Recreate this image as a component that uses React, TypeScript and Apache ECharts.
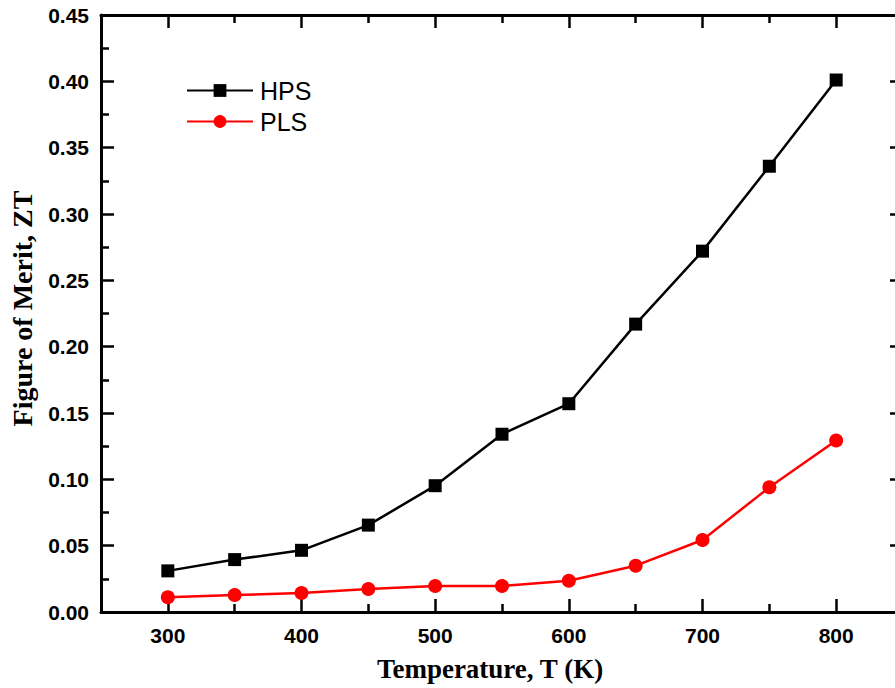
import React, { useEffect, useRef } from "react";
import * as echarts from "echarts";

const temperatures = [300, 350, 400, 450, 500, 550, 600, 650, 700, 750, 800];
const hpsValues = [0.031, 0.0395, 0.0465, 0.0655, 0.0952, 0.134, 0.157, 0.217, 0.272, 0.336, 0.401];
const plsValues = [0.0111, 0.0128, 0.0143, 0.0173, 0.0196, 0.0196, 0.0236, 0.0349, 0.0543, 0.094, 0.1293];
const xMajorTicks = [300, 400, 500, 600, 700, 800];
const xMinorTicks = [350, 450, 550, 650, 750];

const LABEL_FONT = "'Liberation Sans', Arial, sans-serif";
const TITLE_FONT = "'Liberation Serif', 'Times New Roman', serif";

export default function App() {
  const ref = useRef<HTMLDivElement>(null);
  useEffect(() => {
    if (!ref.current) return;
    const chart = echarts.init(ref.current, undefined, { renderer: "svg" });
    const axisLine = { show: true, lineStyle: { color: "#000", width: 3 } };
    const xBase = { type: "value" as const, min: 250, max: 850, interval: 50, splitLine: { show: false } };
    const majorTick = (vals: number[]) => ({ show: true, inside: true, length: 13, customValues: vals, lineStyle: { color: "#000", width: 2.5 } });
    const minorTickAx = (vals: number[]) => ({ show: true, inside: true, length: 8, customValues: vals, lineStyle: { color: "#000", width: 2.5 } });
    const yBase = {
      type: "value" as const,
      min: 0,
      max: 0.45,
      interval: 0.05,
      splitLine: { show: false },
      axisLine,
      axisTick: { show: true, inside: true, length: 13, lineStyle: { color: "#000", width: 2.5 } },
      minorTick: { show: true, splitNumber: 2, length: 8, lineStyle: { color: "#000", width: 2.5 } },
      minorSplitLine: { show: false },
    };
    chart.setOption({
      animation: false,
      backgroundColor: "#fff",
      grid: { left: 101, top: 15, right: -8, bottom: 76, containLabel: false, outerBoundsMode: "none" },
      legend: {
        orient: "vertical",
        left: 181,
        top: 73,
        itemWidth: 66,
        itemHeight: 16,
        itemGap: 6,
        data: ["HPS", "PLS"],
        textStyle: { fontFamily: LABEL_FONT, fontSize: 25, color: "#000", padding: [0, 0, 0, 2] },
      },
      xAxis: [
        {
          ...xBase,
          position: "bottom",
          axisLine,
          axisTick: majorTick(xMajorTicks),
          axisLabel: {
            show: true,
            customValues: xMajorTicks,
            margin: 13,
            fontFamily: LABEL_FONT,
            fontWeight: "bold",
            fontSize: 21,
            color: "#000",
          },
          name: "Temperature, T (K)",
          nameLocation: "middle",
          nameGap: 43,
          nameTextStyle: { fontFamily: TITLE_FONT, fontWeight: "bold", fontSize: 27, color: "#000", padding: [0, 24, 0, 0] },
        },
        { ...xBase, position: "bottom", axisLine: { show: false }, axisTick: minorTickAx(xMinorTicks), axisLabel: { show: false } },
        { ...xBase, position: "top", axisLine, axisTick: majorTick(xMajorTicks), axisLabel: { show: false } },
        { ...xBase, position: "top", axisLine: { show: false }, axisTick: minorTickAx(xMinorTicks), axisLabel: { show: false } },
      ],
      yAxis: [
        {
          ...yBase,
          position: "left",
          axisLabel: {
            show: true,
            margin: 12,
            formatter: (v: number) => v.toFixed(2),
            fontFamily: LABEL_FONT,
            fontWeight: "bold",
            fontSize: 21,
            color: "#000",
          },
          name: "Figure of Merit, ZT",
          nameLocation: "middle",
          nameGap: 65,
          nameTextStyle: { fontFamily: TITLE_FONT, fontWeight: "bold", fontSize: 28, color: "#000", padding: [0, 0, 0, 10] },
        },
        { ...yBase, position: "right", axisLabel: { show: false } },
      ],
      series: [
        {
          name: "HPS",
          type: "line",
          xAxisIndex: 0,
          yAxisIndex: 0,
          data: temperatures.map((t, i) => [t, hpsValues[i]]),
          symbol: "rect",
          symbolSize: 13,
          itemStyle: { color: "#000" },
          lineStyle: { color: "#000", width: 2.5 },
        },
        {
          name: "PLS",
          type: "line",
          xAxisIndex: 0,
          yAxisIndex: 0,
          data: temperatures.map((t, i) => [t, plsValues[i]]),
          symbol: "circle",
          symbolSize: 14,
          itemStyle: { color: "#ff0000" },
          lineStyle: { color: "#ff0000", width: 2.5 },
        },
      ],
    });
    return () => chart.dispose();
  }, []);
  return <div ref={ref} style={{ position: "fixed", left: 0, top: 0, width: 895, height: 688 }} />;
}
